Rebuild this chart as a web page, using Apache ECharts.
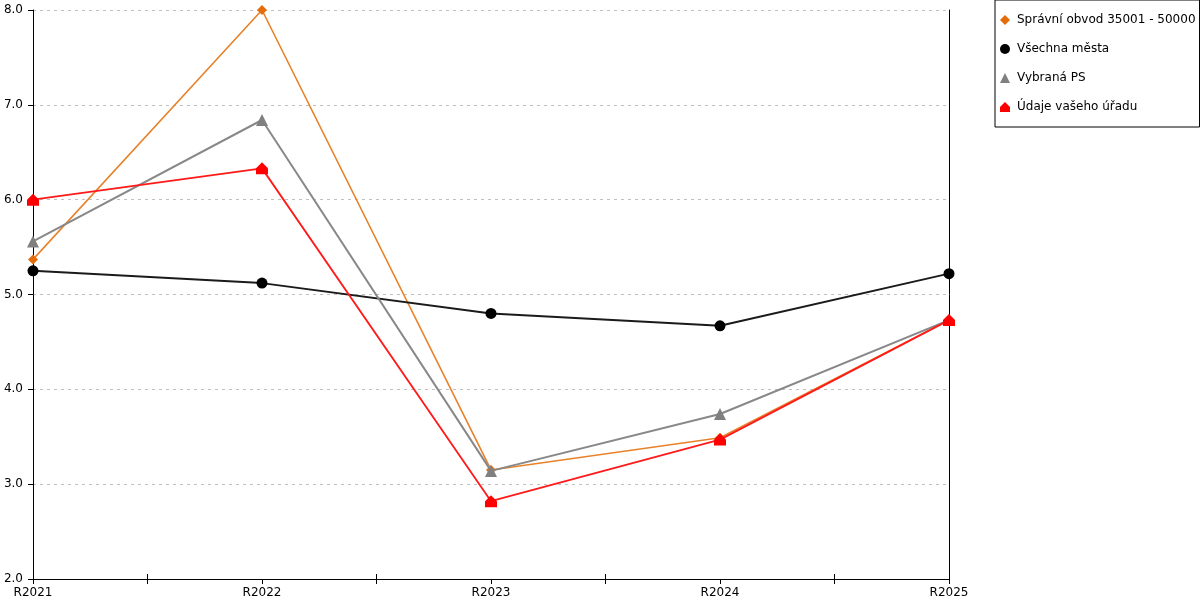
<!DOCTYPE html>
<html>
<head>
<meta charset="utf-8">
<script src="https://cdn.jsdelivr.net/npm/echarts@6/dist/echarts.min.js"></script>
<style>
  html, body { margin: 0; padding: 0; background: #fff; }
  #chart { width: 1200px; height: 600px; }
</style>
</head>
<body>
<div id="chart"></div>
<script>
// data
var categories = ['R2021', 'R2022', 'R2023', 'R2024', 'R2025'];
var seriesNames = ['Správní obvod 35001 - 50000', 'Všechna města', 'Vybraná PS', 'Údaje vašeho úřadu'];
var spravniObvod = [5.37, 8.0, 3.15, 3.49, 4.73];
var vsechnaMesta = [5.25, 5.12, 4.80, 4.67, 5.22];
var vybranaPS = [5.56, 6.84, 3.14, 3.74, 4.73];
var udajeUradu = [6.0, 6.33, 2.82, 3.47, 4.73];
var yTicks = [2, 3, 4, 5, 6, 7, 8];

var housePath = 'path://M0,5 L5,0 L10,5 L10,10 L0,10 Z';
var font = 'DejaVu Sans';

var myChart = echarts.init(document.getElementById('chart'));

// midpoint ticks on the x axis: a second blank category axis with twice the slots
var halfSlots = [];
for (var i = 0; i < categories.length * 2 - 1; i++) halfSlots.push('');

var option = {
    animation: false,
    textStyle: { fontFamily: font },
    grid: { left: 33, right: 251, top: 10, bottom: 21 },
    legend: {
        orient: 'vertical',
        left: 995,
        top: 0,
        padding: [14, 4, 14, 5],
        itemGap: 17,
        itemWidth: 10,
        itemHeight: 10,
        borderColor: '#000',
        borderWidth: 1,
        textStyle: { fontFamily: font, fontSize: 12, color: '#000', padding: [0, 0, 0, 2] },
        data: [
            { name: seriesNames[0], icon: 'diamond' },
            { name: seriesNames[1], icon: 'circle' },
            { name: seriesNames[2], icon: 'triangle' },
            { name: seriesNames[3], icon: housePath }
        ]
    },
    xAxis: [
        {
            type: 'category',
            data: categories,
            boundaryGap: false,
            axisLine: { lineStyle: { color: '#000', width: 1 } },
            axisTick: { length: 5, lineStyle: { color: '#000' } },
            axisLabel: { color: '#000', fontSize: 12, fontFamily: font, margin: 8 }
        },
        {
            type: 'category',
            data: halfSlots,
            boundaryGap: false,
            position: 'bottom',
            offset: 5,
            axisLine: { show: false },
            axisLabel: { show: false },
            axisTick: {
                inside: true,
                length: 10,
                interval: function (idx) { return idx % 2 === 1; },
                lineStyle: { color: '#000' }
            },
            splitLine: { show: false }
        }
    ],
    yAxis: [
        {
            type: 'value',
            min: yTicks[0],
            max: yTicks[yTicks.length - 1],
            interval: 1,
            axisLine: { show: true, lineStyle: { color: '#000', width: 1 } },
            axisTick: { show: true, length: 5, lineStyle: { color: '#000' } },
            axisLabel: {
                color: '#000', fontSize: 12, fontFamily: font, margin: 10,
                formatter: function (v) { return v.toFixed(1); }
            },
            splitLine: { lineStyle: { color: '#c0c0c0', type: [3, 4] } }
        },
        {
            type: 'value',
            position: 'right',
            min: yTicks[0],
            max: yTicks[yTicks.length - 1],
            interval: 1,
            axisLine: { show: true, lineStyle: { color: '#000', width: 1 } },
            axisTick: { show: false },
            axisLabel: { show: false },
            splitLine: { show: false }
        }
    ],
    series: [
        {
            name: seriesNames[0],
            type: 'line',
            data: spravniObvod,
            symbol: 'diamond',
            symbolSize: 10,
            z: 2,
            itemStyle: { color: '#e46c0a' },
            lineStyle: { color: '#e8822a', width: 1.6 }
        },
        {
            name: seriesNames[1],
            type: 'line',
            data: vsechnaMesta,
            symbol: 'circle',
            symbolSize: 11,
            z: 3,
            itemStyle: { color: '#000' },
            lineStyle: { color: '#1a1a1a', width: 2 }
        },
        {
            name: seriesNames[2],
            type: 'line',
            data: vybranaPS,
            symbol: 'triangle',
            symbolSize: 12,
            z: 4,
            itemStyle: { color: '#808080' },
            lineStyle: { color: '#888888', width: 2 }
        },
        {
            name: seriesNames[3],
            type: 'line',
            data: udajeUradu,
            symbol: housePath,
            symbolSize: 12,
            z: 5,
            itemStyle: { color: '#ff0000' },
            lineStyle: { color: '#ff1a1a', width: 1.8 }
        }
    ]
};

myChart.setOption(option);
</script>
</body>
</html>
